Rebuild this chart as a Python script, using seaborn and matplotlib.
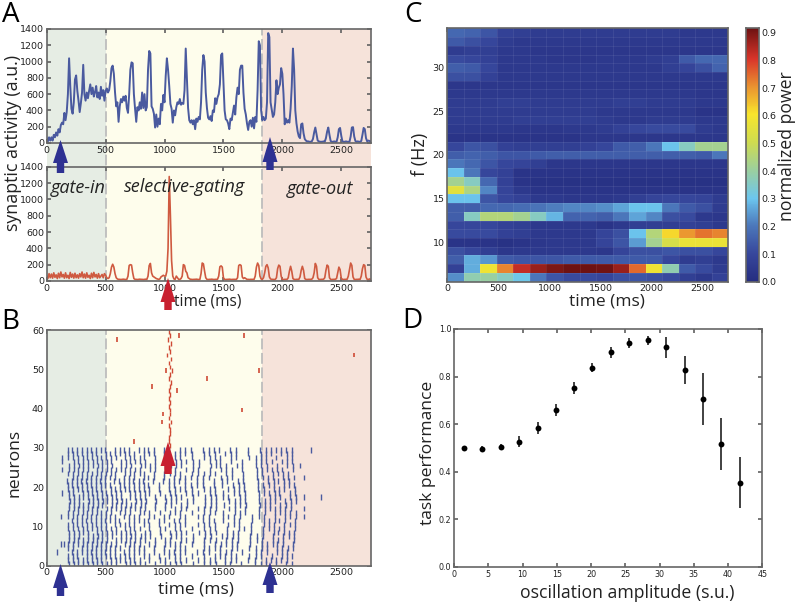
import numpy as np
import pandas as pd
import matplotlib
matplotlib.use("Agg")
import matplotlib.pyplot as plt
import seaborn as sns
from matplotlib.colors import LinearSegmentedColormap
from matplotlib.patches import Polygon

# panel A, one value every 10 ms
blue_activity = [60,20,70,30,70,30,100,70,130,90,170,130,220,250,230,370,280,380,600,1040,
    700,420,360,500,780,830,640,520,380,490,620,960,600,520,620,550,640,720,600,680,
    570,620,700,560,620,540,690,580,650,520,640,670,620,650,760,920,950,850,620,450,
    500,260,450,540,500,570,520,580,430,370,600,900,990,980,600,420,260,440,400,500,
    420,620,430,600,400,440,900,1130,1100,450,420,360,190,350,200,300,230,480,400,590,
    500,820,1040,900,700,480,420,250,400,340,440,500,480,540,470,490,480,650,1160,800,
    430,280,250,280,230,280,170,300,260,320,290,500,900,1080,1000,620,430,310,290,330,
    270,400,380,550,480,560,600,720,1080,1100,750,400,290,280,240,170,300,280,370,460,
    350,560,680,600,900,950,950,620,420,350,240,160,260,280,200,310,180,320,260,650,
    1250,1200,400,280,320,280,300,500,1350,1300,500,410,320,350,500,770,600,680,720,920,
    850,600,230,300,250,280,250,420,700,1160,900,400,240,140,80,60,230,240,120,50,
    30,20,20,15,15,20,50,130,190,110,30,20,15,15,15,20,15,60,140,190,
    100,25,15,15,20,15,15,70,170,185,90,20,15,15,20,15,15,15,80,190,
    195,80,25,15,20,15,15,25,100,185,170,60,20,30,25,20]
red_activity = [60,30,90,40,85,35,100,45,75,30,95,40,110,50,80,35,100,40,70,30,
    105,45,85,35,95,40,75,35,90,50,110,40,85,35,100,45,70,30,95,40,
    105,50,80,35,90,40,60,80,40,90,70,40,30,40,90,170,205,170,90,40,
    25,20,20,18,20,22,20,18,20,60,190,200,195,100,30,20,20,18,20,22,
    20,20,18,20,22,20,60,190,215,100,60,50,40,30,25,20,25,50,60,70,
    60,60,120,400,1280,800,250,60,25,20,60,40,20,20,30,60,200,190,120,100,
    40,30,20,20,18,20,20,22,20,18,20,90,220,210,120,40,20,18,20,20,
    22,20,18,20,20,22,60,175,185,170,40,20,18,20,20,22,20,18,20,20,
    20,20,40,190,200,190,50,30,40,30,20,20,18,20,20,20,20,60,170,220,
    190,60,25,20,40,100,180,200,160,50,25,20,20,18,20,40,150,195,180,60,
    20,18,20,20,20,40,120,180,120,30,20,18,20,20,20,50,130,180,130,30,
    20,18,20,20,20,22,40,100,215,180,40,20,18,20,20,22,40,130,195,180,
    40,20,18,20,20,22,30,100,170,140,35,20,18,20,20,22,60,140,220,190,
    50,20,18,20,20,22,20,60,150,200,190,50,20,18,25,20]

# panel B
volley_ms = [185,225,265,305,345,385,425,465,505,545,585,625,665,705,745,790,830,870,915,960,1000,1045,
    1090,1135,1180,1235,1285,1335,1385,1430,1475,1520,1570,1615,1660,1720,1780,1825,1870,1915,1955,2000,2045,2090]
# one line per neuron, top neuron first, # = spike in that volley
raster_rows = [
    "#########.####.####.##.###.####.##.#.########",
    "#######.#######.###.######.###.###.#.###.####",
    "###########.#####.#.####.#.####.##.####.#.###",
    ".#########.######.#.#######.###.#.#.####.####",
    "##########.###.####.####.##.####.##.###.#.###",
    "#####.##########.##.###.###.#.###.#.######.##",
    "###########.#####.#.####.#####.##.#.##.####.#",
    ".##########.###.###.#.#######.###.#.####.###",
    "#########.#######.#.#####.##.###.##.#.#####.#",
    "##########.#######.#.##.####.##.###.####.####",
    "########.#########.#.#####.###.####.##.###.##",
    "##.#########.#####.#.##.###.###.###.#####.###",
    "############.####.#.####.#.#####.##.#.###.###",
    "###.#########.###.#.###.##.###.####.####.####",
    "########.########.#.##.##..####.###.###.###.#",
    "#######.#########.#.#.###.####.##.#.#######.#",
    "##########.###.###.#.###.#.####.###.##.#####.",
    "###########.####.##.##.##.###.####.###.#.####",
    ".###########.#####.##.###..####.##.#.#####.##",
    "#########.#####.##.#.####.####.###.#.###.####",
    "###########.####.#.##.##.#.###.#.###.#####.##",
    "#####.#########.##.#.####.####.###.#.#.######",
    "###.######.#######.#.###.#.##.####.###.#.####",
    "#########.#######.#.##.###.###.###.###.###.##",
    "###########.####.##.####.#.#.#####.#.#####.##",
    "##.#########.####.#.#.###..####.##.####.#####",
    ".##########.#####.#.#####.###.###.#.###.###.#",
    "###.###########.##.#.###.#.#.#####.###.#.####",
    "########.#######.#.##.###.####.###.##.#####.#",
    "###########.#####.#.####.#.###.##.#.###.#.###",
]
# row wiggle in ms, bottom neuron first
row_shift_early = [4,0,-4,-7,-4,0,4,8,5,0,-4,-8,-5,-1,3,7,10,6,2,-3,-7,-10,-6,-2,3,7,4,0,-4,-7]
row_shift_late = [-10,-8,-5,-2,0,3,6,9,12,14,17,20,22,24,26,28,25,22,19,16,13,10,7,4,1,-2,-5,-7,-9,-11]
stray_blue_ms = [88,118,145,118,130,130,130,130,2180,2180,2180,2180,2150,2240,2325]
stray_blue_row = [3,5,5,12,18,24,27,26,12,17,22,14,25,29,17]
red_burst_ms = [1045,1035,1040,1050,1045,1040,1055,1040,1045,1050,1042,1047,1040,1048,1040,1045,1052,1040,
    1050,1060,1045,1040,1055,1025,1045,1040,1055,1030,1050,1040]
red_burst_row = list(range(30, 60))
stray_red_ms = [745,600,1125,1675,2610,1010,1800,1360,895,1110,1655,985,975]
stray_red_row = [31,57,58,58,53,49,49,47,45,44,39,38,36]

# panel C, top row is 34 Hz and bottom row is 6 Hz
freqs = list(range(34, 5, -1))
power = [
    [.17,.16,.13,.08,.07,.06,.06,.06,.06,.06,.06,.06,.06,.06,.05,.05,.05],
    [.14,.12,.10,.06,.05,.05,.05,.05,.05,.05,.05,.05,.05,.05,.05,.05,.05],
    [.06,.07,.07,.05,.05,.04,.04,.04,.04,.04,.04,.04,.04,.04,.04,.04,.04],
    [.11,.10,.08,.05,.05,.05,.04,.04,.04,.05,.05,.05,.06,.07,.14,.17,.17],
    [.15,.14,.10,.05,.05,.05,.05,.05,.05,.05,.05,.05,.05,.07,.09,.12,.16],
    [.12,.12,.08,.05,.05,.05,.05,.05,.05,.05,.05,.05,.05,.05,.05,.05,.05],
    [.04,.04,.04,.04,.04,.04,.04,.04,.04,.04,.04,.04,.04,.04,.04,.04,.04],
    [.05,.05,.05,.05,.05,.05,.05,.05,.05,.05,.05,.05,.05,.05,.05,.04,.04],
    [.06,.06,.06,.07,.07,.06,.06,.06,.06,.06,.07,.07,.06,.06,.06,.05,.05],
    [.06,.06,.06,.06,.06,.06,.06,.06,.06,.05,.05,.05,.05,.05,.05,.03,.03],
    [.06,.06,.06,.06,.07,.07,.07,.07,.07,.06,.05,.05,.06,.06,.06,.05,.05],
    [.05,.05,.05,.05,.04,.04,.04,.05,.05,.06,.08,.10,.11,.11,.11,.06,.05],
    [.03,.03,.03,.03,.03,.03,.03,.03,.04,.04,.04,.04,.04,.04,.04,.04,.04],
    [.10,.13,.12,.08,.07,.07,.07,.07,.08,.10,.14,.15,.20,.30,.36,.42,.42],
    [.15,.16,.15,.13,.13,.14,.15,.15,.15,.15,.15,.15,.15,.15,.15,.14,.20],
    [.20,.17,.13,.10,.09,.07,.04,.04,.04,.04,.04,.04,.04,.04,.04,.04,.04],
    [.30,.20,.10,.08,.03,.03,.03,.03,.03,.03,.03,.03,.03,.03,.03,.03,.03],
    [.42,.36,.17,.08,.03,.02,.02,.02,.02,.02,.02,.02,.02,.02,.02,.02,.02],
    [.55,.44,.22,.09,.05,.03,.03,.03,.03,.03,.03,.03,.03,.03,.03,.03,.03],
    [.30,.30,.13,.10,.08,.05,.05,.04,.04,.04,.05,.07,.09,.10,.10,.09,.06],
    [.15,.15,.17,.17,.18,.19,.21,.22,.22,.23,.26,.30,.30,.20,.14,.12,.06],
    [.15,.36,.45,.45,.42,.36,.28,.16,.16,.15,.20,.26,.22,.12,.11,.05,.04],
    [.10,.10,.10,.08,.07,.05,.05,.05,.05,.03,.05,.07,.07,.07,.08,.07,.05],
    [.11,.11,.11,.08,.07,.05,.05,.05,.05,.09,.12,.30,.45,.62,.70,.74,.72],
    [.03,.03,.03,.02,.03,.04,.05,.05,.05,.09,.13,.25,.42,.52,.57,.57,.57],
    [.12,.10,.07,.04,.05,.05,.05,.05,.05,.04,.09,.12,.12,.13,.12,.12,.10],
    [.15,.27,.24,.14,.13,.13,.13,.14,.14,.14,.14,.14,.14,.10,.06,.07,.05],
    [.08,.27,.58,.72,.83,.87,.90,.92,.92,.91,.87,.75,.58,.38,.14,.11,.06],
    [.23,.38,.40,.36,.31,.20,.13,.11,.11,.10,.12,.13,.12,.11,.07,.05,.08],
]

# panel D
amplitude = [1.4,4.1,6.8,9.5,12.2,14.9,17.5,20.2,22.9,25.6,28.3,31,33.7,36.4,39,41.8]
performance = [.50,.497,.503,.527,.583,.66,.752,.838,.902,.942,.952,.923,.827,.706,.517,.354]
performance_err = [.01,.01,.012,.022,.025,.025,.025,.02,.022,.02,.02,.045,.06,.108,.11,.107]

W, H = 798, 604
GREY = "#666666"
BLUE_LINE = "#4a5a9f"
RED_LINE = "#cf5a40"

sns.set_theme(style="white", rc={
    "axes.edgecolor": GREY, "axes.linewidth": 1.2,
    "xtick.direction": "in", "ytick.direction": "in",
    "xtick.top": True, "ytick.right": True,
    "xtick.bottom": True, "ytick.left": True,
    "xtick.color": GREY, "ytick.color": GREY,
    "xtick.labelcolor": "#222222", "ytick.labelcolor": "#222222",
    "xtick.major.size": 3, "ytick.major.size": 3,
    "xtick.major.pad": 2, "ytick.major.pad": 2,
    "xtick.labelsize": 6.8, "ytick.labelsize": 6.8,
})
plt.rcParams["font.family"] = ["DejaVu Sans"]

fig = plt.figure(figsize=(W / 100, H / 100), dpi=100)


def add_box(left, top, right, bottom, **kw):
    return fig.add_axes([left / W, 1 - bottom / H, (right - left) / W, (bottom - top) / H], **kw)


def shade(ax):
    ax.axvspan(0, 500, color="#e6ede4", lw=0)
    ax.axvspan(500, 1830, color="#fefdec", lw=0)
    ax.axvspan(1830, 2750, color="#f6e3da", lw=0)
    for x in (500, 1830):
        ax.axvline(x, color="#bdbdbd", lw=1.3, ls=(0, (6, 2)))


# shading that runs behind both traces and through the gap
back = add_box(46.7, 29, 370.7, 281)
back.set_xlim(0, 2750)
shade(back)
back.axis("off")

ax_blue = add_box(46.7, 29, 370.7, 143)
ax_red = add_box(46.7, 166.7, 370.7, 281)
for ax, vals, col, width in ((ax_blue, blue_activity, BLUE_LINE, 1.4), (ax_red, red_activity, RED_LINE, 1.2)):
    ax.patch.set_alpha(0)
    t = np.arange(len(vals)) * 10
    sns.lineplot(x=t, y=vals, ax=ax, color=col, lw=width, estimator=None)
    ax.set_xlim(0, 2750)
    ax.set_ylim(0, 1400)
    ax.set_yticks(range(0, 1401, 200))
    ax.set_xticks(range(0, 2501, 500))

ax_b = add_box(46.7, 330, 370.7, 565.7)
shade(ax_b)
blue_pos, blue_off = [], []
for i, row in enumerate(reversed(raster_rows)):
    for j, mark in enumerate(row[:len(volley_ms)]):
        if mark == "#":
            shift = row_shift_early[i] if j < 30 else row_shift_late[i]
            blue_pos.append(volley_ms[j] + shift)
            blue_off.append(i + 0.5)
raster = pd.DataFrame({"t": blue_pos + stray_blue_ms, "row": blue_off + [r + 0.5 for r in stray_blue_row]})
ax_b.vlines(raster["t"], raster["row"] - 0.7, raster["row"] + 0.7, color=BLUE_LINE, lw=1.0)
ax_b.vlines(red_burst_ms, np.array(red_burst_row), np.array(red_burst_row) + 1.2, color="#cf4a35", lw=1.0)
ax_b.vlines(stray_red_ms, np.array(stray_red_row), np.array(stray_red_row) + 1.2, color="#cf4a35", lw=1.2)
ax_b.set_xlim(0, 2750)
ax_b.set_ylim(0, 60)
ax_b.set_xticks(range(0, 2501, 500))
ax_b.set_yticks(range(0, 61, 10))

power_cmap = LinearSegmentedColormap.from_list("muted_jet", [
    (0.0, "#252d80"), (0.11, "#37479c"), (0.22, "#4c78bb"), (0.33, "#6cc6ee"), (0.44, "#9bcf9f"),
    (0.55, "#cfdc4f"), (0.66, "#f8e52c"), (0.77, "#ea9430"), (0.88, "#d9352a"), (1.0, "#6e1212"),
])
ax_c = add_box(447.3, 28.3, 728.3, 281.7)
ax_cb = add_box(745.7, 28.3, 759, 281.7)
power_df = pd.DataFrame(power, index=freqs)
sns.heatmap(power_df, ax=ax_c, cbar_ax=ax_cb, cmap=power_cmap, vmin=0, vmax=0.916,
            xticklabels=False, yticklabels=False)
rows, cols = power_df.shape
# faint seams between the cells
ax_c.hlines(range(1, rows), 0, cols, color="white", lw=0.5, alpha=0.1)
ax_c.vlines(range(1, cols), 0, rows, color="white", lw=0.5, alpha=0.1)
ax_c.set_xticks(np.array([0, 500, 1000, 1500, 2000, 2500]) / 2750 * cols)
ax_c.set_xticklabels([0, 500, 1000, 1500, 2000, 2500], rotation=0)
ax_c.set_yticks(34.5 - np.array([30, 25, 20, 15, 10]))
ax_c.set_yticklabels([30, 25, 20, 15, 10], rotation=0)
for s in ax_c.spines.values():
    s.set_visible(True)
    s.set_color(GREY)
ax_cb.set_yticks(np.arange(0, 0.95, 0.1))
ax_cb.tick_params(axis="y", left=False, right=True, labelright=True, labelleft=False, length=2)
for s in ax_cb.spines.values():
    s.set_visible(True)
    s.set_color(GREY)

ax_d = add_box(454, 329, 762.3, 567)
ax_d.errorbar(amplitude, performance, yerr=performance_err, fmt="none", ecolor="#333333", elinewidth=1.3)
sns.scatterplot(x=amplitude, y=performance, ax=ax_d, color="black", s=18, linewidth=0, zorder=3)
ax_d.set_xlim(0, 45)
ax_d.set_ylim(0, 1)
ax_d.set_xticks(range(0, 46, 5))
ax_d.tick_params(labelsize=5.8)

# labels, arrows and panel letters sit on a pixel overlay
over = fig.add_axes([0, 0, 1, 1], zorder=10)
over.set_xlim(0, W)
over.set_ylim(H, 0)
over.axis("off")


def arrow(x, tip, base, tail, color, half=7.5, shaft=3.7):
    over.add_patch(Polygon([(x, tip), (x + half, base), (x + shaft, base), (x + shaft, tail),
                            (x - shaft, tail), (x - shaft, base), (x - half, base)],
                           closed=True, color=color, lw=0))


ARROW_BLUE = "#2e3192"
ARROW_RED = "#c8202f"
arrow(60.5, 140, 163, 173, ARROW_BLUE)
arrow(270, 137, 162, 170, ARROW_BLUE)
arrow(168, 278, 302, 310, ARROW_RED)
arrow(168, 442, 466, 474, ARROW_RED)
arrow(60.5, 564, 588, 596, ARROW_BLUE)
arrow(270, 562, 585, 593, ARROW_BLUE)

LABEL = ["Open Sans", "DejaVu Sans"]
DARK = "#222222"
for letter, x, y in (("A", 11, 22), ("B", 10, 329), ("C", 413, 22), ("D", 412, 328)):
    over.text(x, y, letter, fontsize=20, family=LABEL, color="black", ha="center", va="baseline")
for s, x, y, rot, size in (
    ("synaptic activity (a.u.)", 13, 143, 90, 12.8),
    ("neurons", 15, 463, 90, 12.6),
    ("time (ms)", 208, 301, 0, 11.2),
    ("time (ms)", 196, 590, 0, 12.5),
    ("time (ms)", 607, 301, 0, 12.5),
    ("f (Hz)", 420, 154, 90, 13),
    ("normalized power", 787, 146, 90, 12.7),
    ("task performance", 428, 453, 90, 12.6),
    ("oscillation amplitude (s.u.)", 627, 593, 0, 12.7),
):
    over.text(x, y, s, fontsize=size, family=LABEL, color=DARK, rotation=rot, ha="center", va="center")
for s, x, y in (("gate-in", 78, 188), ("selective-gating", 185, 187), ("gate-out", 320, 189)):
    over.text(x, y, s, fontsize=13, family=LABEL, style="italic", color=DARK, ha="center", va="center")

fig.savefig("out.png", dpi=100)
